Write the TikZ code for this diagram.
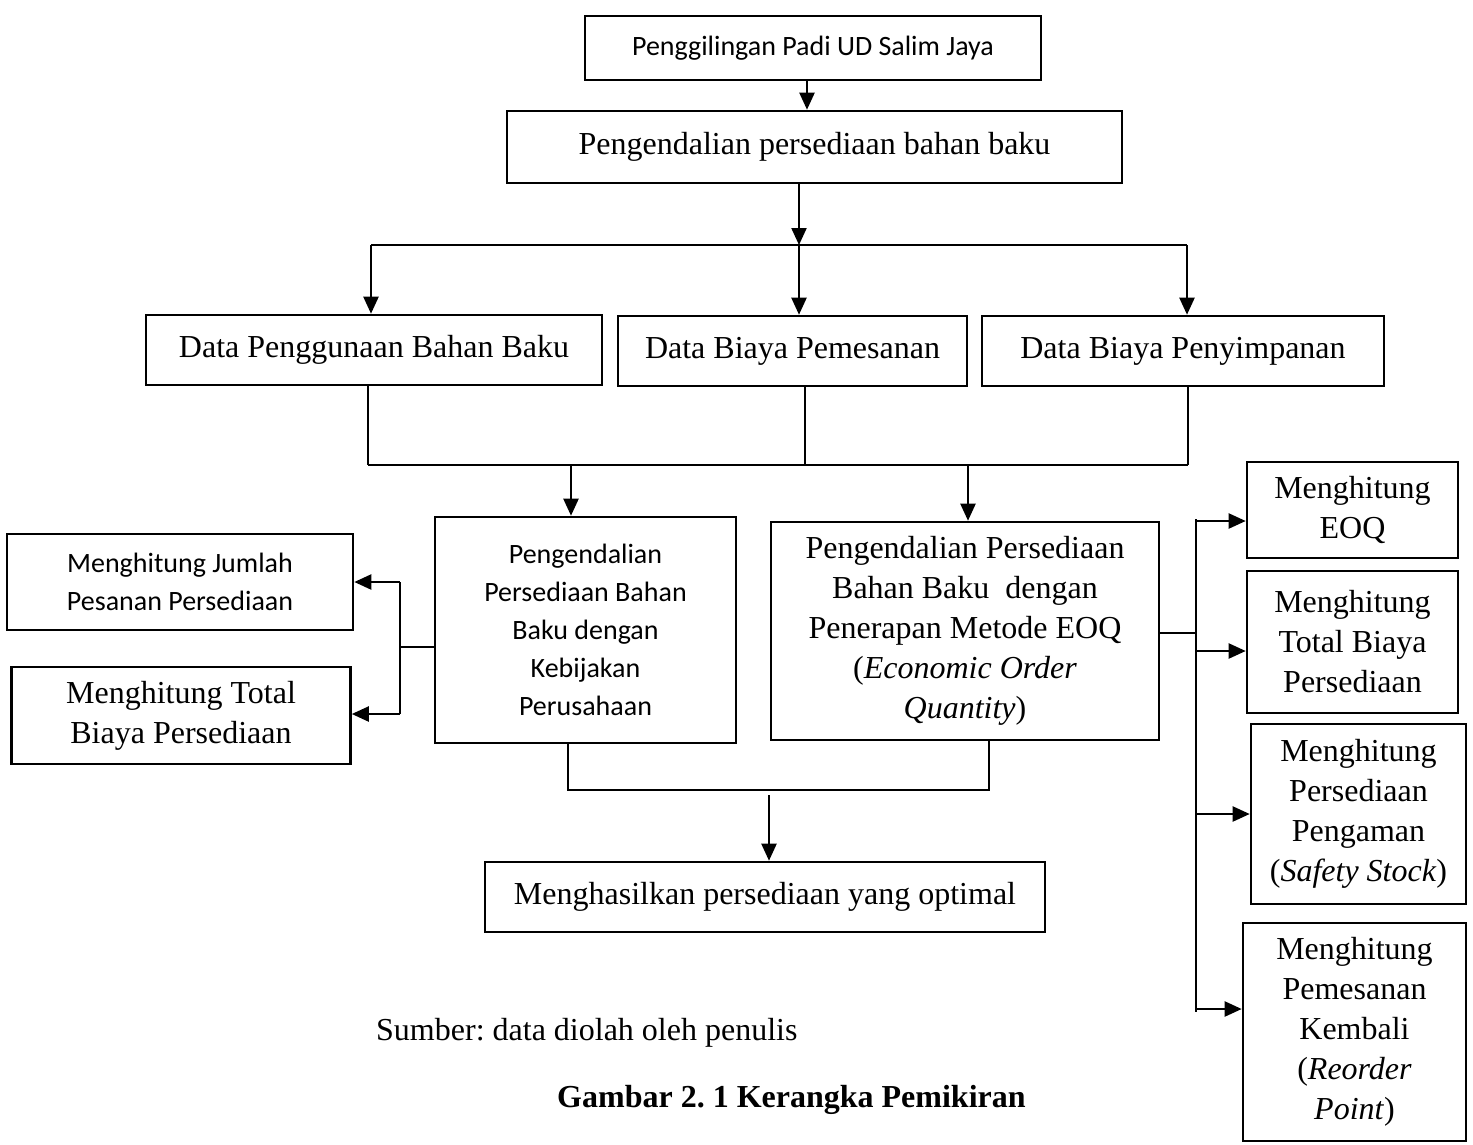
\documentclass[tikz,border=0pt]{standalone}
\usepackage{fontspec}
\setmainfont{Liberation Serif}
\newfontfamily\calibri{Carlito}
\usetikzlibrary{arrows.meta}
\frenchspacing
\begin{document}
\begin{tikzpicture}[x=1pt,y=-1pt,
  box/.style={draw, line width=2.6pt, inner sep=0pt, align=center},
  serif/.style={font=\fontsize{32}{40}\selectfont},
  sans/.style={font=\calibri\fontsize{28}{38}\selectfont},
  arr/.style={-{Triangle[length=17pt,width=15pt]}, line width=2.2pt},
  thin/.style={line width=1.2pt}]
\useasboundingbox (0,0) rectangle (1473,1144);

% nodes
\node[box, sans, minimum width=456pt, minimum height=64pt] (n1) at (813,48) {Penggilingan Padi UD Salim Jaya};
\node[box, serif, minimum width=615pt, minimum height=72pt] (n2) at (814.5,147) {Pengendalian persediaan bahan baku};
\node[box, serif, minimum width=456pt, minimum height=70pt] (A) at (374,350) {Data Penggunaan Bahan Baku};
\node[box, serif, minimum width=349pt, minimum height=70pt] (B) at (792.5,351) {Data Biaya Pemesanan};
\node[box, serif, minimum width=402pt, minimum height=70pt] (C) at (1183,351) {Data Biaya Penyimpanan};
\node[box, sans, minimum width=301pt, minimum height=226pt] (D) at (585.5,630) {Pengendalian\\Persediaan Bahan\\Baku dengan\\Kebijakan\\Perusahaan};
\node[box, serif, minimum width=388pt, minimum height=218pt] (E) at (965,631) {Pengendalian Persediaan\\Bahan Baku~ dengan\\Penerapan Metode EOQ\\(\textit{Economic Order}\\\textit{Quantity})};
\node[box, sans, minimum width=346pt, minimum height=96pt] (L1) at (180,582) {Menghitung Jumlah\\Pesanan Persediaan};
\node[box, serif, minimum width=339pt, minimum height=97pt] (L2) at (181,715.5) {Menghitung Total\\Biaya Persediaan};
\node[box, serif, minimum width=560pt, minimum height=70pt] (F) at (765,897) {Menghasilkan persediaan yang optimal};
\node[box, serif, minimum width=211pt, minimum height=96pt] (G1) at (1352.5,510) {Menghitung\\EOQ};
\node[box, serif, minimum width=211pt, minimum height=142pt] (G2) at (1352.5,642) {Menghitung\\Total Biaya\\Persediaan};
\node[box, serif, minimum width=215pt, minimum height=180pt] (G3) at (1358.5,814) {Menghitung\\Persediaan\\Pengaman\\(\textit{Safety Stock})};
\node[box, serif, minimum width=223pt, minimum height=218pt] (G4) at (1354.5,1032) {Menghitung\\Pemesanan\\Kembali\\(\textit{Reorder}\\\textit{Point})};
\node[serif, anchor=base west, inner sep=0pt] (src) at (376,1040) {Sumber: data diolah oleh penulis};
\node[serif, anchor=base west, inner sep=0pt] (cap) at (557,1107) {\textbf{Gambar 2. 1 Kerangka Pemikiran}};

% top connectors
\coordinate (t1) at (807,0);
\draw[arr] (n1.south -| t1) -- (n2.north -| t1);
\coordinate (b1L) at (371,245);
\coordinate (b1M) at (799,245);
\coordinate (b1R) at (1187,245);
\draw[arr] (n2.south -| b1M) -- (b1M);
\draw[thin] (b1L) -- (b1R);
\draw[arr] (b1L) -- (A.north -| b1L);
\draw[arr] (b1M) -- (B.north -| b1M);
\draw[arr] (b1R) -- (C.north -| b1R);

% second bus
\coordinate (b2A) at (368,465);
\coordinate (b2B) at (805,465);
\coordinate (b2C) at (1188,465);
\coordinate (b2D) at (571,465);
\coordinate (b2E) at (968,465);
\draw[thin] (A.south -| b2A) -- (b2A);
\draw[thin] (B.south -| b2B) -- (b2B);
\draw[thin] (C.south -| b2C) -- (b2C);
\draw[thin] (b2A) -- (b2C);
\draw[arr] (b2D) -- (D.north -| b2D);
\draw[arr] (b2E) -- (E.north -| b2E);

% left branch
\coordinate (lj) at (400,647);
\coordinate (lt) at (400,582);
\coordinate (lb) at (400,714);
\draw[thin] (D.west |- lj) -- (lj);
\draw[thin] (lt) -- (lb);
\draw[arr] (lt) -- (L1.east |- lt);
\draw[arr] (lb) -- (L2.east |- lb);

% right branch
\coordinate (rj) at (1196,633);
\coordinate (rt) at (1196,519);
\coordinate (rb) at (1196,1012);
\coordinate (r1) at (1196,521);
\coordinate (r2) at (1196,651);
\coordinate (r3) at (1196,814);
\coordinate (r4) at (1196,1009);
\draw[thin] (E.east |- rj) -- (rj);
\draw[thin] (rt) -- (rb);
\draw[arr] (r1) -- (G1.west |- r1);
\draw[arr] (r2) -- (G2.west |- r2);
\draw[arr] (r3) -- (G3.west |- r3);
\draw[arr] (r4) -- (G4.west |- r4);

% bottom merge
\coordinate (bD) at (568,790);
\coordinate (bE) at (989,790);
\coordinate (bF) at (769,795);
\draw[thin] (D.south -| bD) -- (bD) -- (bE) -- (E.south -| bE);
\draw[arr] (bF) -- (F.north -| bF);
\end{tikzpicture}
\end{document}
